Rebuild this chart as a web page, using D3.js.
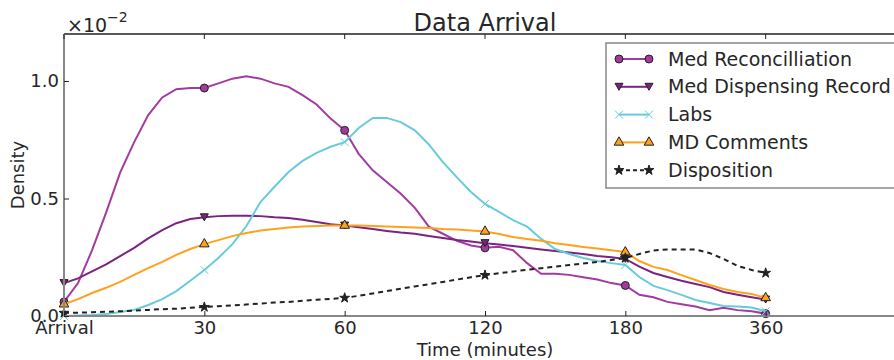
<!DOCTYPE html>
<html>
<head>
<meta charset="utf-8">
<script src="https://cdn.jsdelivr.net/npm/d3@7"></script>
<style>
    body { margin: 0; background: #fff; }
    text { font-family: "DejaVu Sans", sans-serif; fill: #262626; }
</style>
</head>
<body>
<script>
// tick categories on the x axis (evenly spaced)
var tickLabels = ["Arrival", "30", "60", "120", "180", "360"];

// each series is sampled every 0.1 of a tick step (51 points), values in units of 1e-2
var medRec = [0.06, 0.14, 0.28, 0.44, 0.61, 0.74, 0.855, 0.93, 0.965, 0.97,
    0.97, 0.99, 1.01, 1.02, 1.01, 0.99, 0.975, 0.94, 0.90, 0.84,
    0.79, 0.69, 0.62, 0.57, 0.52, 0.46, 0.38, 0.35, 0.32, 0.30,
    0.29, 0.295, 0.28, 0.225, 0.18, 0.18, 0.175, 0.165, 0.155, 0.14,
    0.13, 0.09, 0.08, 0.06, 0.05, 0.04, 0.025, 0.035, 0.025, 0.02,
    0.01];

var medDisp = [0.14, 0.16, 0.19, 0.22, 0.255, 0.29, 0.33, 0.365, 0.395, 0.413,
    0.42, 0.425, 0.427, 0.427, 0.425, 0.42, 0.417, 0.41, 0.40, 0.39,
    0.385, 0.378, 0.37, 0.362, 0.355, 0.35, 0.34, 0.332, 0.323, 0.317,
    0.31, 0.304, 0.298, 0.29, 0.283, 0.277, 0.27, 0.264, 0.255, 0.25,
    0.243, 0.21, 0.183, 0.166, 0.15, 0.136, 0.123, 0.102, 0.09, 0.08,
    0.07];

var labs = [0.0, 0.002, 0.004, 0.008, 0.017, 0.026, 0.047, 0.072, 0.106, 0.15,
    0.196, 0.247, 0.306, 0.383, 0.485, 0.55, 0.613, 0.66, 0.694, 0.72,
    0.74, 0.80, 0.843, 0.843, 0.825, 0.79, 0.73, 0.655, 0.59, 0.528,
    0.477, 0.443, 0.408, 0.38, 0.328, 0.285, 0.264, 0.247, 0.234, 0.225,
    0.217, 0.166, 0.128, 0.11, 0.09, 0.068, 0.055, 0.043, 0.04, 0.036,
    0.02];

var mdComments = [0.05, 0.072, 0.098, 0.12, 0.145, 0.175, 0.204, 0.23, 0.26, 0.285,
    0.306, 0.323, 0.34, 0.353, 0.364, 0.37, 0.377, 0.381, 0.383, 0.385,
    0.385, 0.385, 0.383, 0.381, 0.379, 0.377, 0.374, 0.37, 0.368, 0.364,
    0.36, 0.349, 0.336, 0.328, 0.32, 0.31, 0.302, 0.294, 0.287, 0.28,
    0.272, 0.234, 0.209, 0.196, 0.174, 0.153, 0.132, 0.115, 0.102, 0.094,
    0.077];

var disposition = [0.013, 0.014, 0.016, 0.018, 0.02, 0.023, 0.026, 0.029, 0.031, 0.035,
    0.038, 0.042, 0.045, 0.049, 0.053, 0.057, 0.06, 0.065, 0.069, 0.073,
    0.077, 0.086, 0.096, 0.106, 0.116, 0.126, 0.135, 0.145, 0.155, 0.165,
    0.174, 0.182, 0.189, 0.197, 0.203, 0.21, 0.217, 0.223, 0.23, 0.238,
    0.247, 0.264, 0.279, 0.283, 0.283, 0.283, 0.268, 0.243, 0.213, 0.196,
    0.183];

var seriesNames = ["Med Reconcilliation", "Med Dispensing Record", "Labs", "MD Comments", "Disposition"];
var yTicks = [0.0, 0.5, 1.0];

window.onload = function(){

    var w = 894, h = 360;
    var left = 64, top = 34, right = 906, bottom = 316;   //axes box runs past the right edge

    var svg = d3.select("body")
        .append("svg")
        .attr("width", w)
        .attr("height", h)
        .attr("class", "svg");

    var x = d3.scaleLinear()
        .domain([0, 6])
        .range([left, right]);

    var y = d3.scaleLinear()
        .domain([0, 1.2])
        .range([bottom, top]);

    var series = [
        { name: seriesNames[0], values: medRec,      color: "#a23b9e", marker: "circle" },
        { name: seriesNames[1], values: medDisp,     color: "#7b2383", marker: "tridown" },
        { name: seriesNames[2], values: labs,        color: "#68cbdb", marker: "x" },
        { name: seriesNames[3], values: mdComments,  color: "#ffa11c", marker: "triup" },
        { name: seriesNames[4], values: disposition, color: "#222222", marker: "star", dash: "5,4" }
    ];

    function markerPath(type){
        if (type == "circle") return d3.symbol().type(d3.symbolCircle).size(50)();
        if (type == "triup") return d3.symbol().type(d3.symbolTriangle).size(40)();
        if (type == "tridown") return "M-4,-3.5L4,-3.5L0,3.5Z";
        if (type == "star") return d3.symbol().type(d3.symbolStar).size(30)();
        return "M-4,-4L4,4M-4,4L4,-4";
    }

    var line = d3.line()
        .x(function(d, i){ return x(i / 10); })
        .y(function(d){ return y(d); });

    //lines
    var lines = svg.selectAll(".series")
        .data(series)
        .enter()
        .append("g")
        .attr("class", "series");

    lines.append("path")
        .attr("d", function(d){ return line(d.values); })
        .style("fill", "none")
        .style("stroke", function(d){ return d.color; })
        .style("stroke-width", 2)
        .style("stroke-dasharray", function(d){ return d.dash || null; });

    //markers every 10th sample (on each tick)
    lines.selectAll(".marker")
        .data(function(d){
            return d.values.filter(function(v, i){ return i % 10 == 0; })
                .map(function(v, k){ return { v: v, k: k, s: d }; });
        })
        .enter()
        .append("path")
        .attr("class", "marker")
        .attr("transform", function(d){ return "translate(" + x(d.k) + "," + y(d.v) + ")"; })
        .attr("d", function(d){ return markerPath(d.s.marker); })
        .style("fill", function(d){ return d.s.marker == "x" ? "none" : d.s.color; })
        .style("stroke", function(d){ return d.s.marker == "x" ? d.s.color : "#222"; })
        .style("stroke-width", 1);

    //spines
    svg.append("line")
        .attr("x1", left).attr("x2", right).attr("y1", top).attr("y2", top)
        .style("stroke", "#222").style("stroke-width", 1.5);
    svg.append("line")
        .attr("x1", left).attr("x2", right).attr("y1", bottom).attr("y2", bottom)
        .style("stroke", "#888").style("stroke-width", 2);
    svg.append("line")
        .attr("x1", left).attr("x2", left).attr("y1", top).attr("y2", bottom)
        .style("stroke", "#888").style("stroke-width", 2);

    //x axis, inward ticks
    var xAxis = svg.append("g")
        .attr("class", "xaxis")
        .attr("transform", "translate(0," + bottom + ")")
        .call(d3.axisBottom(x)
            .tickValues(d3.range(tickLabels.length))
            .tickFormat(function(d){ return tickLabels[d]; })
            .tickSizeInner(-5)
            .tickPadding(5));
    xAxis.select(".domain").remove();
    xAxis.selectAll("line").style("stroke", "#222");
    xAxis.selectAll("text").style("font-size", "18px").style("font-family", "DejaVu Sans");

    //top ticks
    svg.selectAll(".topTick")
        .data(d3.range(tickLabels.length))
        .enter()
        .append("line")
        .attr("class", "topTick")
        .attr("x1", function(d){ return x(d); })
        .attr("x2", function(d){ return x(d); })
        .attr("y1", top)
        .attr("y2", top + 5)
        .style("stroke", "#222");

    //y axis
    var yAxis = svg.append("g")
        .attr("class", "yaxis")
        .attr("transform", "translate(" + left + ",0)")
        .call(d3.axisLeft(y)
            .tickValues(yTicks)
            .tickFormat(d3.format(".1f"))
            .tickSizeInner(-5)
            .tickPadding(5));
    yAxis.select(".domain").remove();
    yAxis.selectAll("line").style("stroke", "#222");
    yAxis.selectAll("text").style("font-size", "18px").style("font-family", "DejaVu Sans");

    //offset text x10^-2
    var offset = svg.append("text")
        .attr("x", 67)
        .attr("y", 32)
        .style("font-size", "19px");
    offset.append("tspan").text("\u00d710");
    offset.append("tspan").attr("dy", -10).style("font-size", "14px").text("\u22122");

    //title and labels
    svg.append("text")
        .attr("x", (left + right) / 2)
        .attr("y", 31)
        .attr("text-anchor", "middle")
        .style("font-size", "24px")
        .text("Data Arrival");

    svg.append("text")
        .attr("x", (left + right) / 2)
        .attr("y", 356)
        .attr("text-anchor", "middle")
        .style("font-size", "18px")
        .text("Time (minutes)");

    svg.append("text")
        .attr("transform", "translate(24," + ((top + bottom) / 2) + ") rotate(-90)")
        .attr("text-anchor", "middle")
        .style("font-size", "18px")
        .text("Density");

    //legend
    var legend = svg.append("g")
        .attr("class", "legend")
        .attr("transform", "translate(606,43)");

    legend.append("rect")
        .attr("width", 300)
        .attr("height", 145)
        .style("fill", "#fff")
        .style("stroke", "#888")
        .style("stroke-width", 1.5);

    var items = legend.selectAll(".item")
        .data(series)
        .enter()
        .append("g")
        .attr("class", "item")
        .attr("transform", function(d, i){ return "translate(0," + (16 + i * 27.8) + ")"; });

    items.append("line")
        .attr("x1", 13).attr("x2", 43)
        .style("stroke", function(d){ return d.color; })
        .style("stroke-width", 2)
        .style("stroke-dasharray", function(d){ return d.dash ? "4,3" : null; });

    items.selectAll(".lm")
        .data(function(d){ return [13, 43].map(function(px){ return { px: px, s: d }; }); })
        .enter()
        .append("path")
        .attr("class", "lm")
        .attr("transform", function(d){ return "translate(" + d.px + ",0)"; })
        .attr("d", function(d){ return markerPath(d.s.marker); })
        .style("fill", function(d){ return d.s.marker == "x" ? "none" : d.s.color; })
        .style("stroke", function(d){ return d.s.marker == "x" ? d.s.color : "#222"; })
        .style("stroke-width", 1);

    items.append("text")
        .attr("x", 62)
        .attr("y", 6.5)
        .style("font-size", "19px")
        .text(function(d){ return d.name; });
};
</script>
</body>
</html>
